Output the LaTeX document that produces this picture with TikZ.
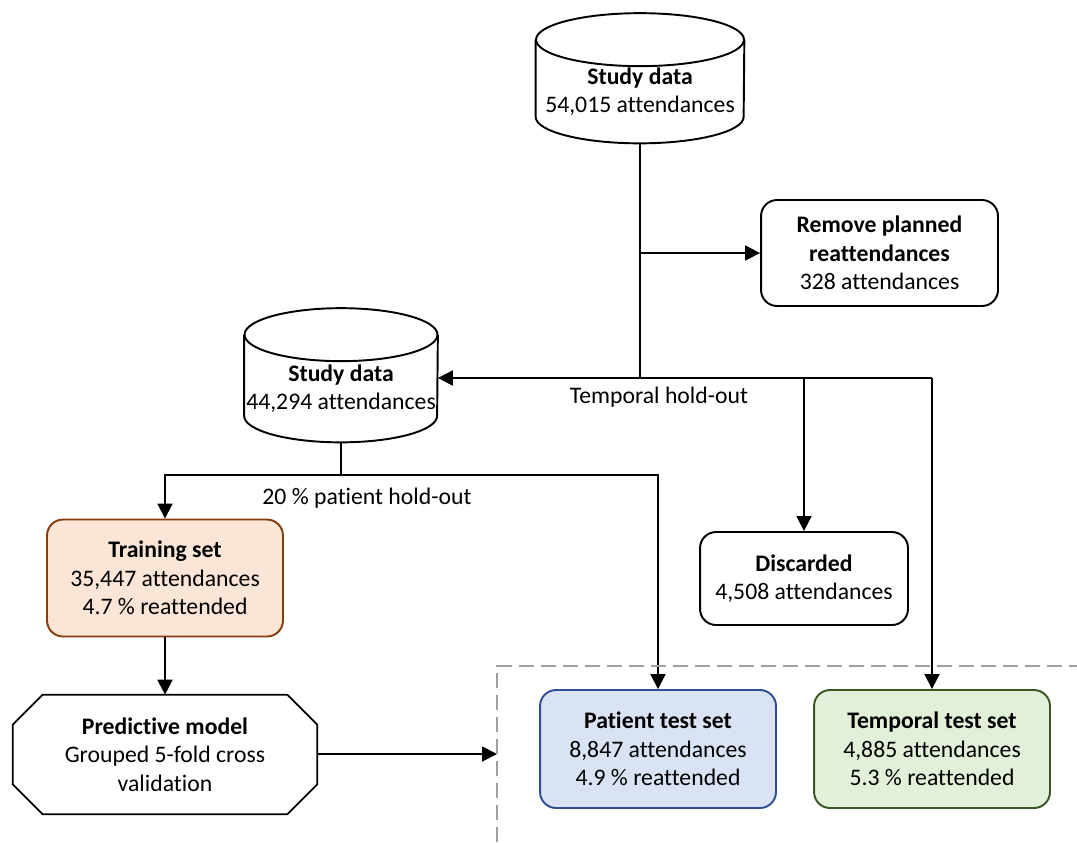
\documentclass[tikz,border=0pt]{standalone}
\usepackage{fontspec}
\setmainfont{Carlito}[Ligatures=CommonOff]
\usetikzlibrary{arrows.meta}
\definecolor{trainfill}{HTML}{FBE5D6}
\definecolor{traindraw}{HTML}{843C0C}
\definecolor{ptestfill}{HTML}{DAE3F3}
\definecolor{ptestdraw}{HTML}{2F4F8F}
\definecolor{ttestfill}{HTML}{E2F0D9}
\definecolor{ttestdraw}{HTML}{385723}

\begin{document}
\begin{tikzpicture}[x=0.02cm, y=-0.02cm,
    font=\fontsize{13.5}{16.2}\selectfont,
    arr/.style={-{Triangle[length=8.5pt,width=8.5pt]}, line width=1.1pt},
    box/.style={draw, line width=1.1pt, rounded corners=0.32cm, align=center, inner sep=2pt},
    % node box runs from the centre line of the top ellipse to the bottom of the drum
    db/.style={minimum width=#1, align=center, inner sep=1pt,
      append after command={\pgfextra{
        \draw[line width=1.1pt] (\tikzlastnode.north west)
          -- ([yshift=0.53cm]\tikzlastnode.south west)
          arc[start angle=180, end angle=360, x radius=#1/2, y radius=0.53cm]
          -- (\tikzlastnode.north east);
        \draw[line width=1.1pt] (\tikzlastnode.north) ellipse[x radius=#1/2, y radius=0.53cm];}}},
    octa/.style={align=center, inner sep=1pt,
      append after command={\pgfextra{
        \draw[line width=1pt] ([xshift=0.6cm]\tikzlastnode.north west)
          -- ([xshift=-0.6cm]\tikzlastnode.north east) -- ([yshift=-0.6cm]\tikzlastnode.north east)
          -- ([yshift=0.6cm]\tikzlastnode.south east) -- ([xshift=-0.6cm]\tikzlastnode.south east)
          -- ([xshift=0.6cm]\tikzlastnode.south west) -- ([yshift=0.6cm]\tikzlastnode.south west)
          -- ([yshift=-0.6cm]\tikzlastnode.north west) -- cycle;}}},
    hold/.style={align=center}]
    \useasboundingbox (0,0) rectangle (1077,842);
    % data sources
    \node[db=4.16cm, minimum height=2.06cm] (data1) at (640,91.5)
      {\textbf{Study data}\\54,015 attendances};
    \node[box, minimum width=4.74cm, minimum height=2.12cm] (remove) at (879.5,253)
      {\textbf{Remove planned}\\\textbf{reattendances}\\328 attendances};
    \node[db=3.86cm, minimum height=2.14cm] (data2) at (341,388.5)
      {\textbf{Study data}\\44,294 attendances};
    \node[box, minimum width=4.16cm, minimum height=1.86cm] (discard) at (804,578.5)
      {\textbf{Discarded}\\4,508 attendances};
    % splits
    \node[box, fill=trainfill, draw=traindraw, minimum width=4.72cm, minimum height=2.34cm] (train) at (165,578)
      {\textbf{Training set}\\35,447 attendances\\4.7 \% reattended};
    \node[octa, minimum width=6.08cm, minimum height=2.38cm] (model) at (165,754.5)
      {\textbf{Predictive model}\\Grouped 5-fold cross\\validation};
    \node[box, fill=ptestfill, draw=ptestdraw, minimum width=4.72cm, minimum height=2.36cm] (ptest) at (658,749)
      {\textbf{Patient test set}\\8,847 attendances\\4.9 \% reattended};
    \node[box, fill=ttestfill, draw=ttestdraw, minimum width=4.72cm, minimum height=2.36cm] (ttest) at (932,749)
      {\textbf{Temporal test set}\\4,885 attendances\\5.3 \% reattended};
    % labels
    \node[hold] (tlabel) at (659,397) {Temporal hold-out};
    \node[hold] (plabel) at (367,498) {20 \% patient hold-out};
    % connectors
    \coordinate (c1) at (640,253);
    \coordinate (c2) at (640,378);
    \coordinate (c3) at (932,378);
    \coordinate (c4) at (341,475);
    \coordinate (c5) at (497,754);
    \draw[line width=1.1pt] (data1.south) -- (c2);
    \draw[arr] (c1) -- (remove.west);
    \draw[arr] (c3) -- (c2) -- (c2 -| data2.east);
    \draw[arr] (c3) -- (ttest.north);
    \draw[arr] (discard.north |- c2) -- (discard.north);
    \draw[arr] (data2.south) -- (c4) -| (train.north);
    \draw[arr] (c4) -| (ptest.north);
    \draw[arr] (train.south) -- (model.north);
    \draw[arr] (model.east |- c5) -- (c5);
    % test region
    \draw[gray!75, line width=0.9pt, dash pattern=on 0.3cm off 0.14cm] (497,842) -- (497,666) -- (1077,666);
  \end{tikzpicture}
\end{document}
